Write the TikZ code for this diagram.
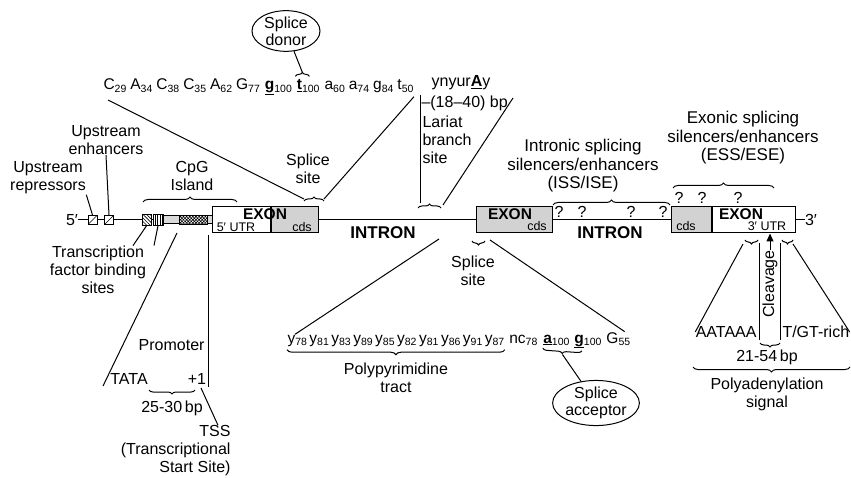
\documentclass[tikz,border=0pt]{standalone}
\usepackage{fontspec}
\setmainfont{Liberation Sans}
\usetikzlibrary{positioning,calc,patterns.meta,arrows.meta,shapes.geometric,decorations.pathreplacing}

\newcommand{\nsub}[1]{\raisebox{-2.5pt}{\fontsize{10.5}{10.5}\selectfont #1}}
\newcommand{\bu}[1]{\textbf{\underline{#1}}}
\newcommand{\tsp}{\hspace{4pt}}
\newcommand{\ysp}{\hspace{2.5pt}}

\begin{document}
\begin{tikzpicture}[x=1pt,y=-1pt,line width=1pt,
    txt/.style={font=\fontsize{16}{18}\selectfont,align=center,inner sep=0pt},
    big/.style={txt,font=\fontsize{17}{18.5}\selectfont},
    seq/.style={font=\fontsize{15.5}{17}\selectfont,inner sep=0pt},
    tiny/.style={font=\fontsize{12.5}{14}\selectfont,inner sep=0pt},
    ttl/.style={font=\fontsize{15.5}{17}\selectfont\bfseries,inner sep=0pt},
    brc/.style={decorate,decoration={brace,amplitude=4pt}},
    brcd/.style={decorate,decoration={brace,amplitude=4pt,mirror}},
    oval/.style={ellipse,draw,inner sep=0pt,minimum width=68pt,minimum height=40pt,align=center,font=\fontsize{16}{17}\selectfont},
    sq/.style={draw,inner sep=0pt,minimum width=9pt,minimum height=9pt,preaction={fill=white}},
    slash/.style={path picture={\draw[line width=0.7pt] (path picture bounding box.south west) -- (path picture bounding box.north east);}},
    seg/.style={draw,inner sep=0pt,minimum height=26pt,anchor=west}]

\useasboundingbox (0,0) rectangle (851,478);

% gene
\node[txt] (five) at (72,220) {5′};
\node[sq,slash] (rep) at (92.5,220) {};
\node[sq,slash] (enh) at (109,220) {};
\node[sq,minimum height=11pt,pattern={Lines[angle=-45,distance=2.5pt,line width=0.6pt]}] (tfa) at (146.5,220) {};
\node[sq,minimum width=10pt,minimum height=11pt,pattern={Lines[angle=90,distance=2.5pt,line width=0.6pt]}] (tfb) at (158,220) {};
\node[seg,minimum width=49pt,minimum height=8pt,fill=gray!30] (band) at (163,220) {};
\node[sq,minimum width=28pt,pattern={Hatch[angle=45,distance=2.2pt,line width=0.6pt]}] (cpg) at (193,220) {};
\node[seg,minimum width=58pt] (utr5) at (212,220) {};
\node[seg,minimum width=47pt,fill=gray!35] (cds1) at (utr5.east) {};
\node[seg,minimum width=76pt,fill=gray!35] (ex2) at (476,220) {};
\node[seg,minimum width=40pt,fill=gray!35] (cds3) at (671,220) {};
\node[seg,minimum width=83pt] (utr3) at (cds3.east) {};
\node[txt] (three) at (811,220) {3′};
\draw (five) -- (rep) -- (enh) -- (tfa) -- (tfb);
\draw (cds1.east) -- (ex2.west);
\draw (ex2.east) -- (cds3.west);
\draw (utr3.east) -- (three);

\node[ttl] (ex1lbl) at (265,214) {EXON};
\node[tiny] (utr5lbl) at (236,227) {5′ UTR};
\node[tiny] (cds1lbl) at (302,227) {cds};
\node[ttl] (ex2lbl) at (510,214) {EXON};
\node[tiny] (cds2lbl) at (537,226) {cds};
\node[tiny] (cds3lbl) at (686,226) {cds};
\node[ttl] (ex3lbl) at (741,214) {EXON};
\node[tiny] (utr3lbl) at (767,226) {3′ UTR};
\node[ttl,font=\fontsize{17}{19}\selectfont\bfseries] (in1) at (383,233) {INTRON};
\node[ttl,font=\fontsize{17}{19}\selectfont\bfseries] (in2) at (610,233) {INTRON};

% upstream
\node[txt] (reptxt) at (48,178) {Upstream\\repressors};
\node[txt] (enhtxt) at (106,140) {Upstream\\enhancers};
\draw (reptxt.south east) -- (rep.north);
\draw (enhtxt.south) -- (enh.north);
\node[txt] (cpgtxt) at (192,176) {CpG\\Island};
\draw[brc,decoration={amplitude=5pt}] (143,202) -- (237,202);
\node[txt] (tftxt) at (98,270) {Transcription\\factor binding\\sites};
\draw ([xshift=35pt]tftxt.north) -- (tfa.south);
\draw ([xshift=56pt]tftxt.north) -- (tfb.south);

% promoter
\node[txt,anchor=east] (prom) at (205,345) {Promoter};
\node[txt] (tata) at (129,379) {TATA};
\node[txt] (plus) at (197,379) {+1};
\coordinate (pt) at (177,233);
\coordinate (pb) at (103,386);
\draw (pt) -- (pb);
\coordinate (tsst) at (208,235);
\coordinate (tssb) at (208,387);
\draw (tsst) -- (tssb);
\draw[brcd] (149,390) -- (195,390);
\node[txt] (bp1) at (172,408) {25-30\,bp};
\node[txt,align=right,anchor=east] (tss) at (231,451) {TSS\\(Transcriptional\\Start Site)};
\draw ([xshift=4pt,yshift=-3pt]plus.south) -- ([xshift=-13pt]tss.north east);

% splice donor
\node[oval] (donor) at (286,31) {Splice\\donor};
\node[seq,anchor=base west] (s1a) at (103,90) {C\nsub{29}\tsp A\nsub{34}\tsp C\nsub{38}\tsp C\nsub{35}\tsp A\nsub{62}\tsp G\nsub{77}};
\node[seq,base right=4pt of s1a] (s1g) {\bu{g}\nsub{100}};
\node[seq,base right=4pt of s1g] (s1t) {\bu{t}\nsub{100}};
\node[seq,base right=4pt of s1t] (s1b) {a\nsub{60}\tsp a\nsub{74}\tsp g\nsub{84}\tsp t\nsub{50}};
\coordinate (dta) at ([xshift=-1pt,yshift=3pt]s1t.north west);
\coordinate (dtb) at ([xshift=13pt,yshift=3pt]s1t.north west);
\draw[brc] (dta) -- (dtb);
\draw ($(dta)!0.5!(dtb)+(0,-4)$) -- (donor);
\coordinate (ssl) at (304,201);
\coordinate (ssr) at (324,201);
\draw[brc] (ssl) -- (ssr);
\node[txt] (ss1) at (308,169) {Splice\\site};
\coordinate (dl) at (108,100);
\draw (dl) -- ([yshift=2pt]ssl);
\draw ([yshift=-3pt]s1b.south east) -- ([yshift=2pt]ssr);

% lariat
\node[txt] (branch) at (461,83) {ynyur\bu{A}y};
\node[txt,anchor=west] (dist) at (421,103) {–(18–40) bp};
\node[txt,anchor=west,align=left] (lariat) at (422,140) {Lariat\\branch\\site};
\coordinate (lbl) at (418,208);
\coordinate (lbr) at (441,208);
\draw[brc] (lbl) -- (lbr);
\coordinate (vt) at (420,95);
\coordinate (vb) at (420,203);
\draw (vt) -- (vb);
\coordinate (lr) at (513,98);
\draw (lr) -- ([xshift=2pt,yshift=3pt]lbr);

% splicing regulators
\node[big] (iss) at (583,166) {Intronic splicing\\silencers/enhancers\\(ISS/ISE)};
\draw[brc,decoration={amplitude=5pt}] (553,205) -- (670,205);
\foreach \x in {559,582,631,663} \node[txt] (q\x) at (\x,212) {?};
\node[big] (ess) at (743,138) {Exonic splicing\\silencers/enhancers\\(ESS/ESE)};
\draw[brc,decoration={amplitude=5pt}] (673,188) -- (774,188);
\foreach \x in {679,702,738} \node[txt] (e\x) at (\x,198) {?};

% splice acceptor
\draw[brcd] (472,241) -- (485,241);
\node[txt] (ss2) at (473,271) {Splice\\site};
\node[seq,anchor=base west] (ytract) at (287,343) {y\nsub{78}\ysp y\nsub{81}\ysp y\nsub{83}\ysp y\nsub{89}\ysp y\nsub{85}\ysp y\nsub{82}\ysp y\nsub{81}\ysp y\nsub{86}\ysp y\nsub{91}\ysp y\nsub{87}};
\node[seq,base right=4pt of ytract] (nc) {nc\nsub{78}};
\node[seq,base right=5pt of nc] (aa) {\bu{a}\nsub{100}};
\node[seq,base right=4pt of aa] (gg) {\bu{g}\nsub{100}};
\node[seq,base right=4pt of gg] (g55) {G\nsub{55}};
\draw[brcd,decoration={amplitude=5pt}] ([yshift=-3pt]ytract.south west) -- ([yshift=-3pt]ytract.south east);
\node[txt,below=16pt of ytract] (ppt) {Polypyrimidine\\tract};
\coordinate (aca) at ([yshift=-2pt]aa.south west);
\coordinate (acb) at ([xshift=8pt,yshift=-2pt]gg.south west);
\draw[brcd] (aca) -- (acb);
\node[oval,minimum width=72pt,minimum height=44pt] (acc) at (596,403) {Splice\\acceptor};
\draw ($(aca)!0.5!(acb)+(0,5)$) -- (acc);
\coordinate (il) at (439,239);
\coordinate (ir) at (490,240);
\draw (il) -- ([xshift=8pt]ytract.north west);
\draw (ir) -- ([xshift=-6pt]g55.north east);

% polyadenylation
\draw[brcd] (745,240) -- (758,240);
\draw[brcd] (782,240) -- (793,240);
\node[txt,anchor=east] (aat) at (757,332) {AATAAA};
\node[txt,anchor=west] (tgt) at (782,332) {T/GT-rich};
\draw (743,244) -- (aat.west);
\draw (793,244) -- (tgt.east);
\draw (759,243) -- (759,340);
\draw (780,243) -- (780,340);
\node[txt,rotate=90] (clv) at (770,284) {Cleavage};
\draw[-{Triangle[length=8pt,width=7pt]}] (clv.east) -- (utr3.south -| clv);
\draw[brcd] (760,343) -- (780,343);
\node[txt] (bp2) at (767,357) {21-54\,bp};
\draw[brcd,decoration={amplitude=5pt}] (693,367) -- (850,367);
\node[txt] (pas) at (767,394) {Polyadenylation\\signal};
\end{tikzpicture}
\end{document}
